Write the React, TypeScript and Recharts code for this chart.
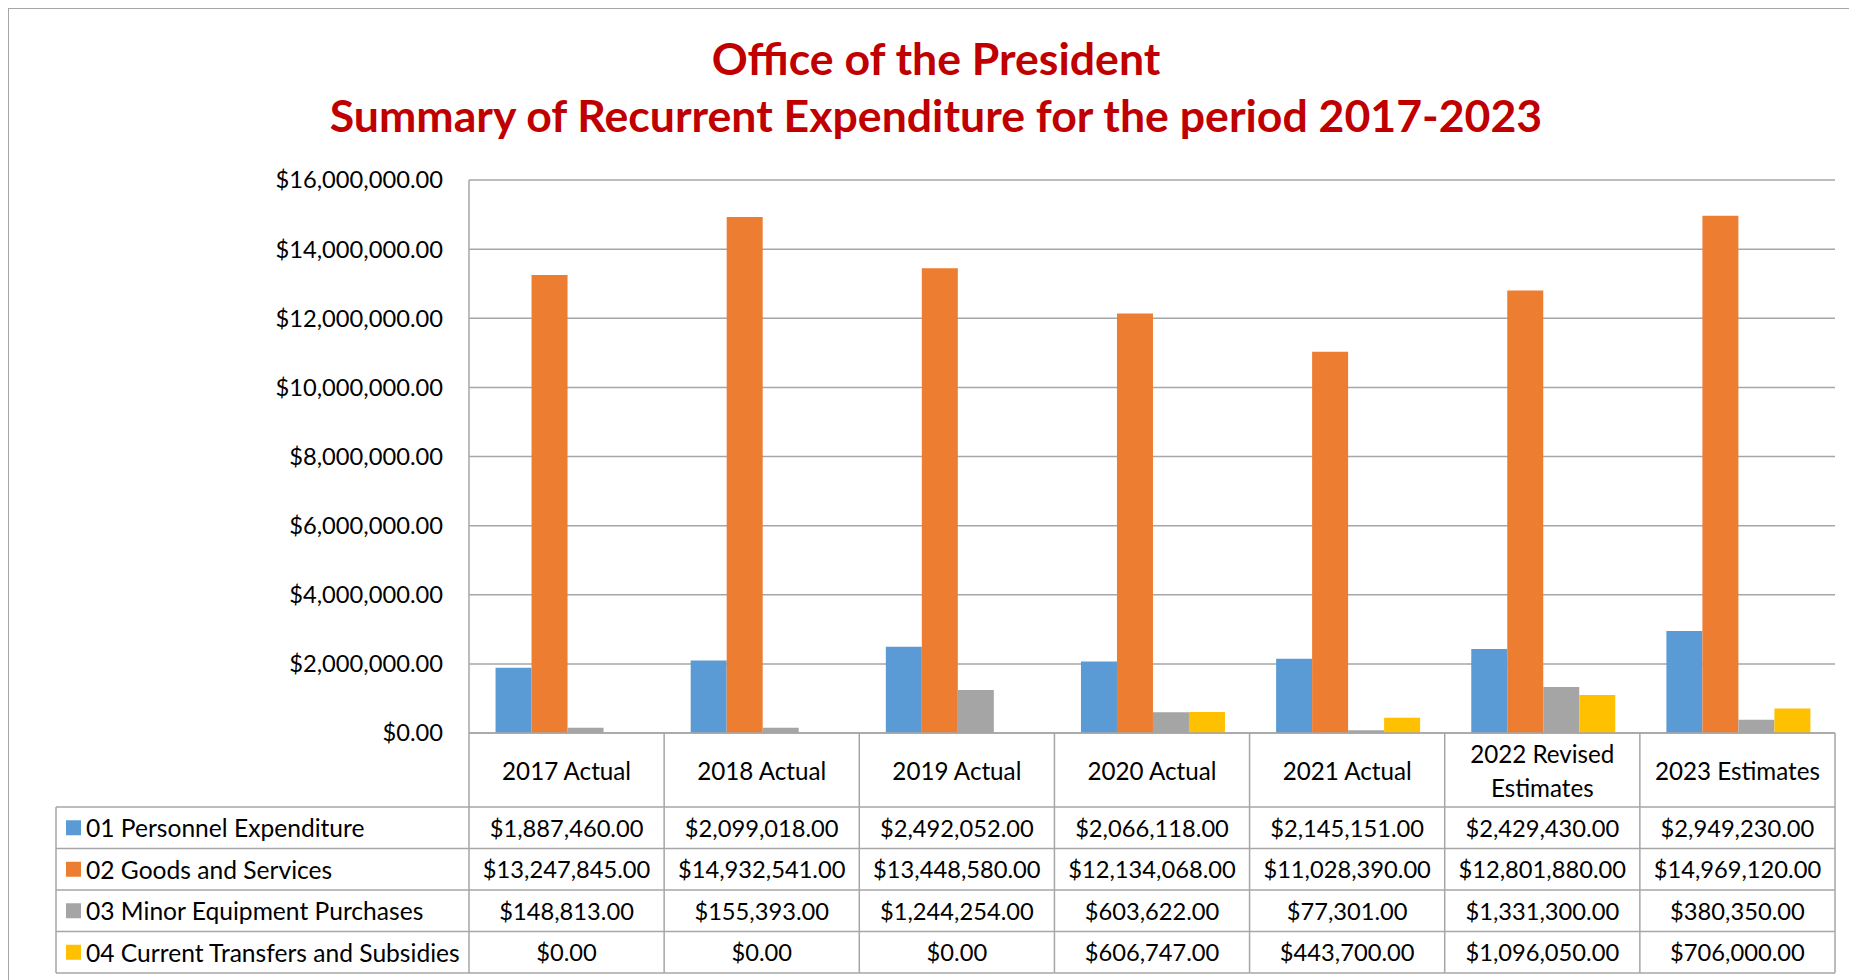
import React from 'react';
import { BarChart, Bar, XAxis, YAxis, CartesianGrid } from 'recharts';

// chart data
const categories = [
  '2017 Actual',
  '2018 Actual',
  '2019 Actual',
  '2020 Actual',
  '2021 Actual',
  '2022 Revised Estimates',
  '2023 Estimates',
];
const seriesNames = [
  '01 Personnel Expenditure',
  '02 Goods and Services',
  '03 Minor Equipment Purchases',
  '04 Current Transfers and Subsidies',
];
const personnel = [1887460, 2099018, 2492052, 2066118, 2145151, 2429430, 2949230];
const goodsServices = [13247845, 14932541, 13448580, 12134068, 11028390, 12801880, 14969120];
const minorEquipment = [148813, 155393, 1244254, 603622, 77301, 1331300, 380350];
const transfers = [0, 0, 0, 606747, 443700, 1096050, 706000];
const yTicks = [0, 2000000, 4000000, 6000000, 8000000, 10000000, 12000000, 14000000, 16000000];

const colors = ['#5B9BD5', '#ED7D31', '#A5A5A5', '#FFC000'];
const seriesValues = [personnel, goodsServices, minorEquipment, transfers];

const data = categories.map((name, i) => ({
  name,
  s0: personnel[i],
  s1: goodsServices[i],
  s2: minorEquipment[i],
  s3: transfers[i],
}));

const FONT = 'Lato, "Open Sans", sans-serif';
const GRID = '#a6a6a6';
const HEADER_H = 74;
const ROW_H = 41.5;
const TABLE_H = HEADER_H + ROW_H * 4;
const LEGEND_LEFT = 56;

const money = (v: number) =>
  '$' + v.toLocaleString('en-US', { minimumFractionDigits: 2, maximumFractionDigits: 2 });

// splits long category names onto two lines like the excel data table does
const wrap = (s: string) => {
  if (s.length <= 16) return [s];
  const cut = s.lastIndexOf(' ');
  return [s.slice(0, cut), s.slice(cut + 1)];
};

const numStyle = { fontFamily: FONT, fontSize: 23.7, fill: '#000' };
const headStyle = { fontFamily: FONT, fontSize: 24.2, fill: '#000' };
const legendStyle = { fontFamily: FONT, fontSize: 24.6, fill: '#000' };

const TableTick = (props: any) => {
  const { x, y, payload } = props;
  const idx = categories.indexOf(payload.value);
  const half = payload.offset || 97.6;
  const left = x - half;
  const right = x + half;
  const lines = wrap(payload.value);

  return (
    <g>
      {idx === 0 && <line x1={left} x2={left} y1={y} y2={y + TABLE_H} stroke={GRID} strokeWidth={1.5} />}
      <line x1={right} x2={right} y1={y} y2={y + TABLE_H} stroke={GRID} strokeWidth={1.5} />
      {[0, 1, 2, 3, 4].map((r) => (
        <line key={r} x1={left} x2={right} y1={y + HEADER_H + r * ROW_H} y2={y + HEADER_H + r * ROW_H} stroke={GRID} strokeWidth={1.5} />
      ))}
      {lines.map((t, k) => (
        <text
          key={k}
          x={x}
          y={y + HEADER_H / 2 + (k - (lines.length - 1) / 2) * 34}
          textAnchor="middle"
          dominantBaseline="central"
          style={headStyle}
        >
          {t}
        </text>
      ))}
      {seriesValues.map((vals, r) => (
        <text
          key={r}
          x={x}
          y={y + HEADER_H + r * ROW_H + ROW_H / 2}
          textAnchor="middle"
          dominantBaseline="central"
          style={numStyle}
        >
          {money(vals[idx])}
        </text>
      ))}

      {/* legend column of the data table */}
      {idx === 0 && (
        <g>
          <line x1={LEGEND_LEFT} x2={LEGEND_LEFT} y1={y + HEADER_H} y2={y + TABLE_H} stroke={GRID} strokeWidth={1.5} />
          {[0, 1, 2, 3, 4].map((r) => (
            <line key={r} x1={LEGEND_LEFT} x2={left} y1={y + HEADER_H + r * ROW_H} y2={y + HEADER_H + r * ROW_H} stroke={GRID} strokeWidth={1.5} />
          ))}
          {seriesNames.map((n, r) => {
            const cy = y + HEADER_H + r * ROW_H + ROW_H / 2;
            return (
              <g key={n}>
                <rect x={66} y={cy - 7.5} width={15} height={15} fill={colors[r]} />
                <text x={86} y={cy} dominantBaseline="central" style={legendStyle}>
                  {n}
                </text>
              </g>
            );
          })}
        </g>
      )}
    </g>
  );
};

export default function App() {
  const titleStyle = { fontFamily: FONT, fontWeight: 700, fontSize: 44.6, fill: '#C00000' };
  return (
    <div style={{ position: 'absolute', left: 0, top: 0, width: 1849, height: 980, overflow: 'hidden', background: '#fff' }}>
      <div
        style={{
          position: 'absolute',
          left: 8,
          top: 8,
          width: 1900,
          height: 1000,
          border: '1.5px solid #a6a6a6',
          boxSizing: 'border-box',
        }}
      />
      <svg style={{ position: 'absolute', left: 0, top: 0 }} width={1849} height={150}>
        <text x={936} y={75} textAnchor="middle" style={titleStyle}>
          Office of the President
        </text>
        <text x={936} y={132} textAnchor="middle" style={titleStyle}>
          Summary of Recurrent Expenditure for the period 2017-2023
        </text>
      </svg>
      <div style={{ position: 'absolute', left: 0, top: 0 }}>
        <BarChart
          width={1849}
          height={980}
          data={data}
          margin={{ top: 180, right: 14, bottom: 7, left: 9 }}
          barCategoryGap="13.6%"
          barGap={0}
        >
          <CartesianGrid vertical={false} stroke={GRID} strokeWidth={1.5} />
          <YAxis
            width={460}
            domain={[0, 16000000]}
            ticks={yTicks}
            interval={0}
            tickFormatter={money}
            tickSize={0}
            tickMargin={26}
            axisLine={{ stroke: GRID, strokeWidth: 1.5 }}
            tickLine={false}
            tick={numStyle}
          />
          <XAxis
            dataKey="name"
            height={240}
            interval={0}
            tickSize={0}
            tickMargin={0}
            axisLine={{ stroke: GRID, strokeWidth: 1.5 }}
            tickLine={false}
            tick={<TableTick />}
          />
          {seriesNames.map((n, i) => (
            <Bar key={n} dataKey={`s${i}`} name={n} fill={colors[i]} isAnimationActive={false} />
          ))}
        </BarChart>
      </div>
    </div>
  );
}
